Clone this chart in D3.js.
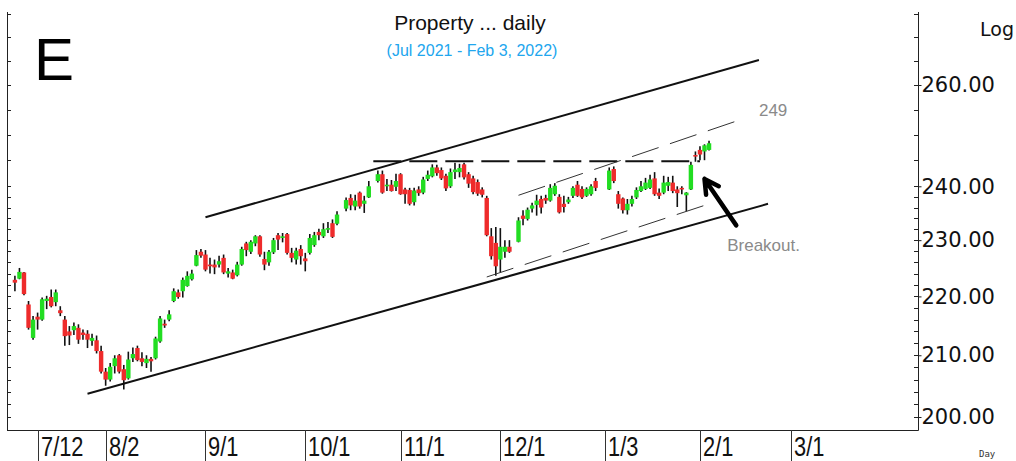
<!DOCTYPE html>
<html>
<head>
<meta charset="utf-8">
<script src="https://cdn.jsdelivr.net/npm/d3@7/dist/d3.min.js"></script>
<style>
  body { margin: 0; background: #fff; }
  svg { display: block; }
</style>
</head>
<body>
<script>
// --- data ---
const firstBar = "2021-07-05";
const noBarDays = ["2021-10-13", "2021-10-22", "2021-12-06", "2021-12-31", "2022-01-03"];

const opens = [222.9,223.1,224.2,218.6,212.9,216.5,216.0,219.2,219.9,219.0,217.6,216.0,214.0,214.2,214.6,213.8,213.6,212.4,212.5,210.7,
  207.3,206.0,208.2,210.0,207.7,206.2,209.5,211.2,209.5,208.7,209.4,209.5,212.3,215.3,216.0,219.2,220.7,220.9,221.8,223.0,
  225.4,227.9,227.4,225.6,225.6,225.6,226.8,224.0,224.2,223.7,225.6,229.4,227.9,229.4,230.7,226.6,226.0,227.8,230.9,230.4,
  231.1,227.7,226.5,228.4,226.7,227.7,229.1,231.5,230.7,231.9,233.1,233.0,235.8,237.8,236.2,238.8,236.7,237.9,241.0,242.3,
  240.0,240.3,239.9,242.3,239.4,239.3,237.0,239.4,238.8,241.4,241.9,243.6,243.1,242.0,240.0,242.7,242.7,244.2,242.3,241.5,
  240.8,239.4,237.8,230.7,229.5,226.5,227.9,228.8,229.7,234.5,233.9,235.8,236.5,237.6,237.8,237.3,238.5,238.0,236.7,237.0,
  238.2,240.3,239.5,238.2,238.5,241.0,239.4,243.3,238.5,237.7,235.5,236.7,237.9,239.1,239.5,239.7,241.5,238.8,238.8,240.1,
  240.7,239.4,239.7,238.3,239.4,246.0,247.0,246.7,247.0];
const highs = [223.6,225.0,224.3,219.2,216.6,217.2,219.8,220.1,221.2,221.2,218.3,216.6,214.9,215.5,215.2,214.3,214.2,213.6,213.3,211.6,
  207.9,208.7,210.0,210.2,208.4,210.6,211.3,211.6,210.5,210.0,209.7,213.1,216.6,216.0,217.6,221.4,221.2,223.3,224.4,224.7,
  228.2,228.4,228.2,226.8,226.5,227.2,227.4,225.0,224.7,226.1,228.8,229.7,230.0,230.9,230.9,227.9,228.2,230.4,231.3,231.3,
  231.3,228.6,228.6,229.1,227.7,231.1,231.5,232.1,233.1,233.3,233.8,235.3,237.9,238.5,238.4,239.0,238.2,241.0,243.0,243.0,
  241.4,241.2,242.4,242.5,239.7,239.7,239.7,240.0,241.8,243.0,244.2,244.1,243.6,242.4,243.4,244.5,244.3,244.5,242.7,242.0,
  241.3,239.8,238.2,232.2,232.4,232.2,230.0,230.0,234.2,235.5,236.0,236.9,238.4,238.2,238.4,240.4,240.6,238.5,238.2,238.0,
  240.0,241.0,240.0,239.8,240.4,241.6,243.6,243.8,239.1,237.9,237.6,238.2,239.8,241.0,241.6,242.2,242.7,239.6,242.0,241.8,
  242.0,240.0,240.0,238.9,244.7,246.7,247.7,248.1,248.8];
const lows = [220.9,223.0,220.2,214.3,212.6,214.3,215.8,217.8,218.1,218.3,216.6,211.6,211.7,213.4,211.9,212.6,211.2,211.6,210.3,207.0,
  205.0,205.7,207.0,207.0,204.4,206.0,208.9,209.0,208.2,207.9,207.3,209.3,212.1,214.6,215.7,219.0,219.6,219.8,221.7,222.8,
  225.3,226.8,224.4,224.0,223.9,225.1,223.9,223.3,223.0,223.5,225.4,227.1,227.5,228.9,227.0,224.6,225.4,227.5,228.2,229.6,
  227.4,226.0,225.6,225.6,224.4,227.4,228.8,230.0,230.4,231.3,230.4,232.7,235.3,235.5,235.5,235.8,235.0,237.8,240.7,238.6,
  239.1,239.0,239.1,238.4,236.7,236.4,236.4,238.2,238.5,241.0,241.7,242.0,241.2,239.1,239.7,241.4,241.7,241.3,239.7,238.5,
  238.2,237.9,230.7,226.5,223.6,224.2,226.8,227.7,229.6,232.7,233.6,235.1,234.5,234.9,236.7,237.1,238.2,234.9,235.1,236.7,
  237.8,238.0,237.6,238.0,238.2,239.1,239.3,240.6,235.8,234.9,234.7,236.2,237.6,238.9,239.3,239.5,238.2,237.6,238.5,239.1,
  238.7,236.1,238.5,235.3,239.3,244.7,245.0,245.0,246.9];
const closes = [222.4,224.3,220.4,214.6,216.0,216.0,219.5,219.6,218.3,220.7,217.1,213.2,213.3,214.9,212.6,213.4,212.6,212.9,210.7,207.3,
  206.0,208.1,209.5,207.3,205.9,209.3,210.2,209.2,208.9,209.4,209.0,212.8,216.2,215.0,216.9,220.9,219.9,222.9,223.6,224.0,
  227.3,227.2,224.7,225.3,225.1,226.2,224.2,224.4,223.1,225.6,228.4,228.2,229.7,230.7,227.4,225.6,227.9,230.0,230.1,230.7,
  227.7,226.8,228.1,227.1,226.2,230.4,230.9,230.9,232.0,232.2,230.6,234.7,237.4,236.4,237.3,236.2,237.3,240.0,242.3,238.8,
  240.3,239.1,241.0,238.5,238.5,236.7,239.2,238.7,241.3,242.2,243.6,242.5,241.5,239.6,242.7,243.2,243.5,241.7,240.5,238.9,
  238.6,238.4,230.9,227.1,225.3,228.8,228.8,227.9,233.6,233.9,235.6,236.4,237.3,236.0,237.3,239.7,240.1,235.1,236.1,237.5,
  239.7,238.2,237.9,239.5,240.0,239.7,243.0,241.0,236.7,235.5,236.7,237.6,239.3,240.0,240.7,241.3,238.5,238.2,240.7,240.8,
  239.1,238.7,239.4,238.8,244.1,245.7,246.1,247.9,248.3];

const tickDates = ["2021-07-12", "2021-08-02", "2021-09-01", "2021-10-01", "2021-11-01", "2021-12-01", "2022-01-03", "2022-02-01", "2022-03-01"];
const tickLabels = ["7/12", "8/2", "9/1", "10/1", "11/1", "12/1", "1/3", "2/1", "3/1"];
const priceLabels = [200, 210, 220, 230, 240, 260];

// trend lines: [date, price] pairs
const channelTop = [["2021-09-01", 234.2], ["2022-02-18", 265.2]];
const channelBottom = [["2021-07-27", 203.7], ["2022-02-22", 236.7]];
const resistance = [["2021-10-22", 244.8], ["2022-02-01", 244.8]];
const innerTop = [["2021-12-07", 238.3], ["2022-02-15", 253.3]];
const innerBottom = [["2021-11-26", 223.4], ["2022-02-02", 236.4]];
const arrow = [["2022-02-11", 232.7], ["2022-02-02", 241.4]];
const targetNote = ["2022-02-18", 253.8, "249"];
const breakoutNote = ["2022-02-09", 228.1, "Breakout."];

// --- helpers ---
const W = 1016, H = 461;
const base = new Date(Date.UTC(2021, 6, 12));
const parse = s => new Date(s + "T00:00:00Z");
function dayIndex(s) {
  const days = Math.round((parse(s) - base) / 864e5);
  const w = Math.floor(days / 7);
  return w * 5 + (days - w * 7);
}

// build bars on trading weekdays
const bars = [];
let d = parse(firstBar);
while (bars.length < closes.length) {
  const iso = d.toISOString().slice(0, 10);
  const wd = d.getUTCDay();
  if (wd !== 0 && wd !== 6 && !noBarDays.includes(iso)) {
    const k = bars.length;
    bars.push({ date: iso, o: opens[k], h: highs[k], l: lows[k], c: closes[k] });
  }
  d = d3.utcDay.offset(d, 1);
}

const plot = { left: 7, right: 918, top: 12, bottom: 430 };

const x = d3.scaleLinear()
  .domain([dayIndex("2021-07-12"), dayIndex("2022-03-01")])
  .range([37.6, 790.7]);
const y = d3.scaleLog()
  .domain([200, 260])
  .range([417, 85]);

const svg = d3.select("body").append("svg")
  .attr("width", W).attr("height", H)
  .style("font-family", "'Liberation Sans', Arial, sans-serif");

// minor ticks
const minorTicks = d3.range(198, 240, 2).concat(d3.range(240, 276, 5));
svg.append("g").selectAll("line.tl")
  .data(minorTicks).join("line")
  .attr("x1", plot.left).attr("x2", plot.left + 4)
  .attr("y1", v => Math.round(y(v)) + 0.5).attr("y2", v => Math.round(y(v)) + 0.5)
  .attr("stroke", "#222");
svg.append("g").selectAll("line.tr")
  .data(minorTicks).join("line")
  .attr("x1", plot.right - 4).attr("x2", plot.right)
  .attr("y1", v => Math.round(y(v)) + 0.5).attr("y2", v => Math.round(y(v)) + 0.5)
  .attr("stroke", "#222");

// frame
svg.append("path")
  .attr("d", `M${plot.left + 0.5},${plot.top}V${plot.bottom + 0.5}H${plot.right + 0.5}V${plot.top}`)
  .attr("fill", "none").attr("stroke", "#222");

// right axis labels
const yAxis = d3.axisRight(y).tickValues(priceLabels).tickFormat(d3.format(".2f")).tickSize(3);
const ya = svg.append("g").attr("transform", `translate(${plot.right + 0.5},0)`).call(yAxis);
ya.select(".domain").remove();
ya.selectAll("text")
  .attr("x", 3)
  .style("font-family", "'DejaVu Sans', Verdana, sans-serif")
  .style("font-size", "21px").attr("fill", "#111");
ya.selectAll("line").attr("stroke", "#222");

// bottom date axis
const xt = svg.append("g");
xt.selectAll("line")
  .data(tickDates).join("line")
  .attr("x1", t => Math.round(x(dayIndex(t))) + 0.5).attr("x2", t => Math.round(x(dayIndex(t))) + 0.5)
  .attr("y1", plot.bottom).attr("y2", H)
  .attr("stroke", "#333");
xt.selectAll("text")
  .data(tickDates).join("text")
  .attr("transform", t => `translate(${Math.round(x(dayIndex(t))) + 3},456) scale(0.78,1)`)
  .text((t, i) => tickLabels[i])
  .style("font-size", "28px").attr("fill", "#111");

// candles
const g = svg.append("g");
const bw = 4.4;
g.selectAll("line.wick")
  .data(bars).join("line")
  .attr("x1", b => x(dayIndex(b.date))).attr("x2", b => x(dayIndex(b.date)))
  .attr("y1", b => y(b.h)).attr("y2", b => y(b.l))
  .attr("stroke", "#111").attr("stroke-width", 1.6);
g.selectAll("rect.body")
  .data(bars).join("rect")
  .attr("x", b => x(dayIndex(b.date)) - bw / 2)
  .attr("width", bw)
  .attr("y", b => y(Math.max(b.o, b.c)))
  .attr("height", b => Math.max(1.5, Math.abs(y(b.o) - y(b.c))))
  .attr("fill", b => b.c >= b.o ? "#22dd22" : "#ee2b2b");

// annotation lines
const pt = p => [x(dayIndex(p[0])), y(p[1])];
const line = d3.line();
function drawLine(pts, width, color, dash) {
  svg.append("path")
    .attr("d", line(pts.map(pt)))
    .attr("fill", "none")
    .attr("stroke", color)
    .attr("stroke-width", width)
    .attr("stroke-dasharray", dash || null);
}
drawLine(channelTop, 2, "#111");
drawLine(channelBottom, 2, "#111");
drawLine(resistance, 2, "#111", "28,8");
drawLine(innerTop, 1, "#333", "28,12");
drawLine(innerBottom, 1, "#333", "28,12");

// arrow
const [a0, a1] = arrow.map(pt);
const ang = Math.atan2(a1[1] - a0[1], a1[0] - a0[0]);
const hl = 16, ha = 0.5;
svg.append("path")
  .attr("d", `M${a0[0]},${a0[1]}L${a1[0]},${a1[1]}` +
    `M${a1[0] - hl * Math.cos(ang - ha)},${a1[1] - hl * Math.sin(ang - ha)}L${a1[0]},${a1[1]}` +
    `L${a1[0] - hl * Math.cos(ang + ha)},${a1[1] - hl * Math.sin(ang + ha)}`)
  .attr("fill", "none").attr("stroke", "#000").attr("stroke-width", 4.5)
  .attr("stroke-linecap", "round").attr("stroke-linejoin", "round");

// notes
[targetNote, breakoutNote].forEach(n => {
  svg.append("text")
    .attr("x", x(dayIndex(n[0]))).attr("y", y(n[1]))
    .text(n[2])
    .style("font-size", "17px")
    .attr("fill", "#8a8a8a");
});

// titles
svg.append("text").attr("x", 470).attr("y", 30).attr("text-anchor", "middle")
  .style("font-size", "21px").attr("fill", "#111").text("Property ... daily");
svg.append("text").attr("x", 472).attr("y", 56).attr("text-anchor", "middle")
  .style("font-size", "16px").attr("fill", "#21a6ee").text("(Jul 2021 - Feb 3, 2022)");
svg.append("text").attr("x", 34).attr("y", 80)
  .style("font-size", "60px").attr("fill", "#000").text("E");
svg.append("text").attr("x", 980).attr("y", 36)
  .style("font-family", "'DejaVu Sans', Verdana, sans-serif")
  .style("font-size", "19px").attr("fill", "#111").text("Log");
svg.append("text").attr("x", 979).attr("y", 457)
  .style("font-family", "'DejaVu Sans Mono', monospace")
  .style("font-size", "9px").attr("fill", "#333").text("Day");
</script>
</body>
</html>
